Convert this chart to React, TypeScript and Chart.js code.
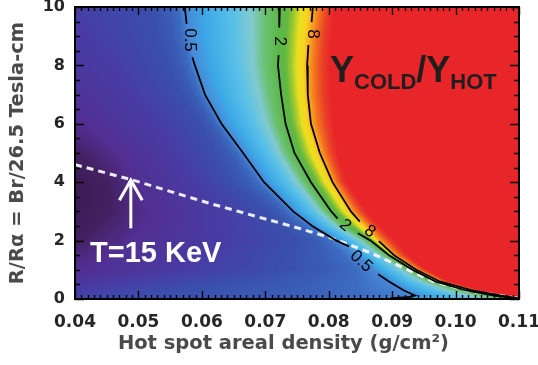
import React, { useEffect, useRef } from "react";
import { Chart, registerables } from "chart.js";

Chart.register(...registerables);

// ---------- axes ----------
const xMin = 0.04;
const xMax = 0.11;
const xStep = 0.01;
const xMinorStep = 0.001;
const yMin = 0;
const yMax = 10;
const yStep = 2;
const yMinorStep = 0.5;
const xTickLabels = ["0.04", "0.05", "0.06", "0.07", "0.08", "0.09", "0.10", "0.11"];
const yTickLabels = ["0", "2", "4", "6", "8", "10"];
const xTitle = "Hot spot areal density (g/cm²)";
const yTitle = "R/Rα = Br/26.5 Tesla-cm";

// ---------- colour field: x position of each log2(Ycold/Yhot) level, per row of R/Ra ----------
const fieldRowsY = [0, 0.12, 0.3, 0.6, 1, 1.5, 2, 2.5, 3, 4, 5, 6, 7, 8, 9, 10];
const fieldLevels = [-4.6, -4, -3.3, -2.6, -2, -1, 1, 3, 4.2];
const levelM46X = [0.0, 0.004, 0.01, 0.012, 0.018, 0.026, 0.03, 0.032, 0.034, 0.036, 0.03, 0.02, 0.01, 0.005, 0.0, 0.0];
const levelM40X = [0.01, 0.014, 0.02, 0.022, 0.028, 0.035, 0.04, 0.043, 0.045, 0.045, 0.04, 0.032, 0.022, 0.015, 0.01, 0.008];
const levelM33X = [0.02, 0.024, 0.03, 0.034, 0.042, 0.045, 0.049, 0.051, 0.052, 0.05, 0.047, 0.042, 0.036, 0.029, 0.024, 0.021];
const levelM26X = [0.03, 0.034, 0.04, 0.0475, 0.057, 0.06, 0.063, 0.063, 0.063, 0.0585, 0.056, 0.053, 0.049, 0.046, 0.042, 0.0385];
const levelM20X = [0.05, 0.052, 0.056, 0.064, 0.073, 0.073, 0.075, 0.072, 0.07, 0.0644, 0.062, 0.0597, 0.0565, 0.0545, 0.053, 0.052];
const level05X = [0.0897, 0.0936, 0.0918, 0.0895, 0.0871, 0.0845, 0.0812, 0.0774, 0.0744, 0.0698, 0.0665, 0.0631, 0.0605, 0.0589, 0.0579, 0.0573];
const level2X = [0.111, 0.106, 0.1015, 0.0968, 0.0932, 0.0895, 0.0866, 0.0828, 0.0804, 0.0772, 0.0746, 0.0732, 0.0725, 0.072, 0.0721, 0.0723];
const level8X = [0.1115, 0.107, 0.1025, 0.0975, 0.0938, 0.0903, 0.0878, 0.0858, 0.0835, 0.0806, 0.0786, 0.0772, 0.0767, 0.0766, 0.0769, 0.0775];
const levelRedX = [0.113, 0.1085, 0.104, 0.099, 0.0955, 0.0925, 0.0905, 0.088, 0.086, 0.0828, 0.0814, 0.0808, 0.0803, 0.0802, 0.0804, 0.081];

const cmapValues = [-4.6, -4.0, -3.3, -2.6, -2.0, -1.5, -1.2, -1.0, -0.6, 0.0, 0.4, 0.7, 1.0, 1.5, 1.9, 2.3, 2.7, 3.0, 3.4, 3.8, 4.2];
const cmapColors = ["#37164f", "#43205f", "#522f92", "#483ca4", "#3a4fab", "#3a5cb4", "#3c6cc2", "#4888d6", "#3ca8e6", "#58c0e8", "#80cad0", "#6cc070", "#5ab848", "#62b842", "#a0c830", "#e8e020", "#f8d420", "#f8b020", "#f27020", "#ea4026", "#e8262a"];

// ---------- contour lines (null = gap for label) ----------
const c05X = [0.0573, 0.0576, null, 0.0585, 0.0589, 0.0605, 0.0631, 0.0665, 0.0698, 0.0722, 0.0744, 0.0774, 0.0812, 0.0832, null, 0.0878, 0.0895, 0.0918, 0.0936, 0.0925, 0.0897];
const c05Y = [10, 9.42, null, 8.28, 8, 7, 6, 5, 4, 3.48, 3, 2.5, 2, 1.8, null, 0.85, 0.6, 0.3, 0.12, 0.06, 0.03];
const c2X = [0.0723, 0.0722, null, 0.0721, 0.072, 0.0725, 0.0732, 0.0746, 0.0772, 0.0804, 0.0814, null, 0.0846, 0.0866, 0.0895, 0.0932, 0.0968, 0.1015, 0.106, 0.1095];
const c2Y = [10, 9.3, null, 8.35, 8, 7, 6, 5, 4, 3, 2.75, null, 2.25, 2, 1.5, 1, 0.6, 0.3, 0.12, 0.02];
const c8X = [0.0775, 0.0773, null, 0.0768, 0.0766, 0.0767, 0.0772, 0.0786, 0.0806, 0.0835, 0.0849, null, 0.0879, 0.0903, 0.0938, 0.0975, 0.1025, 0.107, 0.1098];
const c8Y = [10, 9.48, null, 8.7, 8, 7, 6, 5, 4, 3, 2.65, null, 1.98, 1.5, 1, 0.6, 0.3, 0.12, 0.03];

const contourLabelText = ["0.5", "2", "8", "0.5", "2", "8"];
const contourLabelX = [0.0581, 0.0723, 0.0775, 0.0851, 0.0826, 0.0865];
const contourLabelY = [8.87, 8.83, 9.08, 1.29, 2.52, 2.31];
const contourLabelAngle = [90, 90, 90, 42, 40, 36];

// ---------- T = 15 keV line, arrow and annotations ----------
const tempLineX = [0.04, 0.049, 0.0613, 0.0755, 0.0807, 0.0865, 0.0965, 0.1018, 0.107, 0.11];
const tempLineY = [4.6, 4.08, 3.27, 2.41, 2.07, 1.59, 0.6, 0.29, 0.12, 0.02];
const arrowShaftX = [0.0488, 0.0488];
const arrowShaftY = [2.42, 4.05];
const arrowHeadX = [0.047, 0.0488, 0.0506];
const arrowHeadY = [3.38, 4.07, 3.38];
const tempLabel = "T=15 KeV";
const tempLabelX = 0.04237;
const tempLabelY = 1.26;
const ratioParts = ["Y", "COLD", "/", "Y", "HOT"];
const ratioPartIsSub = [false, true, false, false, true];
const ratioLabelX = 0.0802;
const ratioLabelY = 7.43;

// ---------- helpers ----------
const toPoints = (xs: (number | null)[], ys: (number | null)[]) =>
  xs.map((x, i) => ({ x: x === null ? null : x, y: ys[i] === null ? null : ys[i] }));

const hexToRgb = (h: string) => [parseInt(h.slice(1, 3), 16), parseInt(h.slice(3, 5), 16), parseInt(h.slice(5, 7), 16)];

const fieldLevelX = [levelM46X, levelM40X, levelM33X, levelM26X, levelM20X, level05X, level2X, level8X, levelRedX];

function colorAt(v: number, rgb: number[][]) {
  const n = cmapValues.length;
  if (v <= cmapValues[0]) return rgb[0];
  if (v >= cmapValues[n - 1]) return rgb[n - 1];
  let k = 0;
  while (k < n - 2 && v >= cmapValues[k + 1]) k++;
  const f = (v - cmapValues[k]) / (cmapValues[k + 1] - cmapValues[k]);
  const a = rgb[k], b = rgb[k + 1];
  return [a[0] + f * (b[0] - a[0]), a[1] + f * (b[1] - a[1]), a[2] + f * (b[2] - a[2])];
}

function drawFrameAndTicks(chart: any) {
  const ctx = chart.ctx;
  const a = chart.chartArea;
  const xs = chart.scales.x, ys = chart.scales.y;
  ctx.save();
  ctx.setLineDash([]);
  ctx.strokeStyle = "#000000";
  ctx.lineWidth = 1.4;
  const nx = Math.round((xMax - xMin) / xMinorStep);
  const xPer = Math.round(xStep / xMinorStep);
  for (let i = 0; i <= nx; i++) {
    const p = Math.round(xs.getPixelForValue(xMin + i * xMinorStep)) + 0.5;
    const len = i % xPer === 0 ? 8 : 4;
    ctx.beginPath();
    ctx.moveTo(p, a.bottom);
    ctx.lineTo(p, a.bottom - len);
    ctx.moveTo(p, a.top);
    ctx.lineTo(p, a.top + len);
    ctx.stroke();
  }
  const ny = Math.round((yMax - yMin) / yMinorStep);
  const yPer = Math.round(yStep / yMinorStep);
  for (let i = 0; i <= ny; i++) {
    const p = Math.round(ys.getPixelForValue(yMin + i * yMinorStep)) + 0.5;
    const len = i % yPer === 0 ? 9 : 5;
    ctx.beginPath();
    ctx.moveTo(a.left, p);
    ctx.lineTo(a.left + len, p);
    ctx.moveTo(a.right, p);
    ctx.lineTo(a.right - len, p);
    ctx.stroke();
  }
  ctx.lineWidth = 2;
  ctx.strokeRect(a.left, a.top, a.right - a.left, a.bottom - a.top);
  ctx.restore();
}

const heatmapPlugin = {
  id: "heatmap",
  beforeDatasetsDraw(chart: any) {
    const { ctx, chartArea, scales } = chart;
    const xs = scales.x, ys = scales.y;
    const left = Math.round(chartArea.left), top = Math.round(chartArea.top);
    const w = Math.round(chartArea.right) - left, h = Math.round(chartArea.bottom) - top;
    const img = ctx.createImageData(w, h);
    const rgb = cmapColors.map(hexToRgb);
    const nL = fieldLevels.length;
    const rowX = new Array(nL).fill(0);
    const xVals = new Array(w);
    for (let i = 0; i < w; i++) xVals[i] = xs.getValueForPixel(left + i + 0.5);
    for (let j = 0; j < h; j++) {
      const yv = ys.getValueForPixel(top + j + 0.5);
      let r = 0;
      while (r < fieldRowsY.length - 2 && yv > fieldRowsY[r + 1]) r++;
      let t = (yv - fieldRowsY[r]) / (fieldRowsY[r + 1] - fieldRowsY[r]);
      t = Math.max(0, Math.min(1, t));
      for (let k = 0; k < nL; k++) rowX[k] = fieldLevelX[k][r] + t * (fieldLevelX[k][r + 1] - fieldLevelX[k][r]);
      for (let i = 0; i < w; i++) {
        const xv = xVals[i];
        let v: number;
        if (xv <= rowX[0]) v = fieldLevels[0];
        else if (xv >= rowX[nL - 1]) v = fieldLevels[nL - 1];
        else {
          let k = 0;
          while (k < nL - 2 && xv >= rowX[k + 1]) k++;
          const dx = rowX[k + 1] - rowX[k];
          const f = dx > 0 ? (xv - rowX[k]) / dx : 1;
          v = fieldLevels[k] + f * (fieldLevels[k + 1] - fieldLevels[k]);
        }
        const c = colorAt(v, rgb);
        const p = (j * w + i) * 4;
        img.data[p] = c[0];
        img.data[p + 1] = c[1];
        img.data[p + 2] = c[2];
        img.data[p + 3] = 255;
      }
    }
    ctx.putImageData(img, left, top);
  },
};

const textPlugin = {
  id: "textOverlay",
  afterDatasetsDraw(chart: any) {
    const { ctx, scales } = chart;
    const xs = scales.x, ys = scales.y;
    ctx.save();
    ctx.fillStyle = "#000";
    ctx.font = '17px "Liberation Sans", Arial, sans-serif';
    ctx.textAlign = "center";
    ctx.textBaseline = "middle";
    contourLabelText.forEach((txt, i) => {
      ctx.save();
      ctx.translate(xs.getPixelForValue(contourLabelX[i]), ys.getPixelForValue(contourLabelY[i]));
      ctx.rotate((contourLabelAngle[i] * Math.PI) / 180);
      ctx.fillText(txt, 0, 0);
      ctx.restore();
    });
    ctx.fillStyle = "#ffffff";
    ctx.font = 'bold 29px "Liberation Sans", Arial, sans-serif';
    ctx.textAlign = "left";
    ctx.textBaseline = "alphabetic";
    ctx.fillText(tempLabel, xs.getPixelForValue(tempLabelX), ys.getPixelForValue(tempLabelY));
    ctx.fillStyle = "#1e1e1e";
    let px = xs.getPixelForValue(ratioLabelX);
    const py = ys.getPixelForValue(ratioLabelY);
    for (let i = 0; i < ratioParts.length; i++) {
      const sub = ratioPartIsSub[i];
      ctx.font = sub ? 'bold 22px "Liberation Sans", Arial, sans-serif' : 'bold 36px "Liberation Sans", Arial, sans-serif';
      ctx.fillText(ratioParts[i], px, py + (sub ? 7 : 0));
      px += ctx.measureText(ratioParts[i]).width;
    }
    ctx.restore();
    drawFrameAndTicks(chart);
  },
};

const lineDataset = (data: any[], color: string, width: number, dash: number[] = []) => ({
  data,
  showLine: true,
  borderColor: color,
  borderWidth: width,
  borderDash: dash,
  pointRadius: 0,
  spanGaps: false,
  fill: false,
});

export default function App() {
  const canvasRef = useRef<HTMLCanvasElement | null>(null);

  useEffect(() => {
    const canvas = canvasRef.current;
    if (!canvas) return;
    const axisTickFont = (size: number) => ({ family: '"DejaVu Sans", sans-serif', size, weight: "bold" as const });
    const chart = new Chart(canvas, {
      type: "scatter",
      data: {
        datasets: [
          lineDataset(toPoints(c05X, c05Y), "#000", 1.8),
          lineDataset(toPoints(c2X, c2Y), "#000", 1.8),
          lineDataset(toPoints(c8X, c8Y), "#000", 1.8),
          lineDataset(toPoints(tempLineX, tempLineY), "rgba(245,245,250,0.95)", 3, [7, 5]),
          lineDataset(toPoints(arrowShaftX, arrowShaftY), "#ffffff", 3),
          { ...lineDataset(toPoints(arrowHeadX, arrowHeadY), "#ffffff", 3), borderJoinStyle: "miter" },
        ] as any,
      },
      options: {
        responsive: false,
        devicePixelRatio: 1,
        animation: false,
        events: [],
        layout: { padding: { left: 0, right: 19, top: 7, bottom: 0 } },
        plugins: { legend: { display: false }, tooltip: { enabled: false } },
        scales: {
          x: {
            type: "linear",
            min: xMin,
            max: xMax,
            ticks: {
              stepSize: xStep,
              autoSkip: false,
              maxRotation: 0,
              padding: 13,
              color: "#262626",
              font: axisTickFont(17),
              callback: (v: any, i: number) => xTickLabels[i] ?? Number(v).toFixed(2),
            },
            grid: { display: false, drawTicks: false },
            border: { display: false },
            title: {
              display: true,
              text: xTitle + "    ",
              color: "#4a4a4a",
              font: { family: '"DejaVu Sans", sans-serif', size: 19.5, weight: "bold" },
              padding: { top: 0, bottom: 9 },
            },
            afterFit: (s: any) => {
              s.height = 66;
              s.paddingLeft = 0;
              s.paddingRight = 0;
            },
          },
          y: {
            type: "linear",
            min: yMin,
            max: yMax,
            ticks: {
              stepSize: yStep,
              padding: 10,
              color: "#262626",
              font: axisTickFont(16),
              callback: (v: any, i: number) => yTickLabels[i] ?? String(v),
            },
            grid: { display: false, drawTicks: false },
            border: { display: false },
            title: {
              display: true,
              text: yTitle,
              color: "#4a4a4a",
              font: { family: '"DejaVu Sans", sans-serif', size: 19.5, weight: "bold" },
              padding: { top: 6, bottom: 0 },
            },
            afterFit: (s: any) => {
              s.width = 75;
              s.paddingTop = 0;
              s.paddingBottom = 0;
            },
          },
        },
      } as any,
      plugins: [heatmapPlugin, textPlugin],
    });
    return () => chart.destroy();
  }, []);

  return (
    <div style={{ position: "fixed", left: 0, top: 0, width: 538, height: 365, background: "#fff" }}>
      <canvas ref={canvasRef} width={538} height={365} style={{ display: "block" }} />
    </div>
  );
}
